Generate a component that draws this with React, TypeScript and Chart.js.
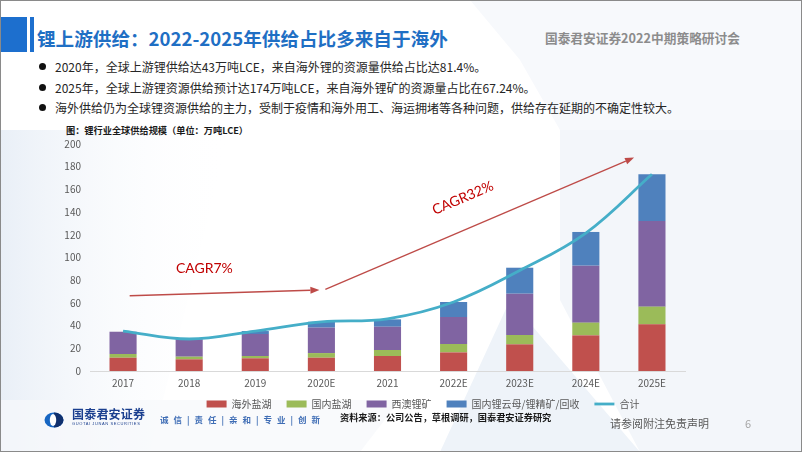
import React, { useEffect, useRef } from 'react';
import { Chart, registerables } from 'chart.js';

Chart.register(...registerables);

// ---------- data ----------
const categories = ['2017', '2018', '2019', '2020E', '2021', '2022E', '2023E', '2024E', '2025E'];
const overseasBrine = [11.7, 10.3, 11.2, 11.7, 13.2, 16.4, 23.5, 31.4, 41.1];
const domesticBrine = [3.3, 2.3, 2.0, 4.1, 5.3, 7.4, 8.2, 11.2, 15.6];
const westAustraliaMine = [19.6, 15.4, 19.4, 22.4, 20.5, 23.8, 36.4, 50.2, 75.5];
const domesticMicaOther = [0, 0, 2.6, 5.2, 6.5, 13.2, 22.9, 29.7, 41.1];
const totalSupply = [35.2, 28.2, 35.2, 43.2, 46.0, 60.8, 88.5, 121.5, 173.3];
const seriesNames = ['海外盐湖', '国内盐湖', '西澳锂矿', '国内锂云母/锂精矿/回收', '合计'];
const yMax = 200;
const yStep = 20;
const cagrLabels = ['CAGR7%', 'CAGR32%'];

const bullets = [
  '2020年，全球上游锂供给达43万吨LCE，来自海外锂的资源量供给占比达81.4%。',
  '2025年，全球上游锂资源供给预计达174万吨LCE，来自海外锂矿的资源量占比在67.24%。',
  '海外供给仍为全球锂资源供给的主力，受制于疫情和海外用工、海运拥堵等各种问题，供给存在延期的不确定性较大。',
];

const CJK = '"Noto Sans CJK SC", "Noto Sans", sans-serif';

// annotation arrows in data space: [categoryIndex, value]
const cagrArrows = [
  { from: [0.1, 66.3], to: [2.97, 71.4], label: cagrLabels[0], labelAt: [1.23, 89.9], rotate: false },
  { from: [3.06, 72.0], to: [7.73, 188.0], label: cagrLabels[1], labelAt: [5.14, 152.4], rotate: true },
];

const cagrPlugin = {
  id: 'cagrArrows',
  afterDatasetsDraw(chart: any) {
    const { ctx, scales } = chart;
    const xs = scales.x;
    const ys = scales.y;
    ctx.save();
    for (const a of cagrArrows) {
      const x1 = xs.getPixelForValue(a.from[0]);
      const y1 = ys.getPixelForValue(a.from[1]);
      const x2 = xs.getPixelForValue(a.to[0]);
      const y2 = ys.getPixelForValue(a.to[1]);
      const ang = Math.atan2(y2 - y1, x2 - x1);
      const head = 9;
      const hw = 3.5;
      const bx = x2 - head * Math.cos(ang);
      const by = y2 - head * Math.sin(ang);
      ctx.strokeStyle = '#be4b48';
      ctx.lineWidth = 1.3;
      ctx.beginPath();
      ctx.moveTo(x1, y1);
      ctx.lineTo(bx, by);
      ctx.stroke();
      ctx.fillStyle = '#be4b48';
      ctx.beginPath();
      ctx.moveTo(x2, y2);
      ctx.lineTo(bx + hw * Math.sin(ang), by - hw * Math.cos(ang));
      ctx.lineTo(bx - hw * Math.sin(ang), by + hw * Math.cos(ang));
      ctx.closePath();
      ctx.fill();

      const tx = xs.getPixelForValue(a.labelAt[0]);
      const ty = ys.getPixelForValue(a.labelAt[1]);
      ctx.save();
      ctx.translate(tx, ty);
      if (a.rotate) ctx.rotate(ang);
      ctx.fillStyle = '#c00000';
      ctx.font = '14px Lato, "Liberation Sans", sans-serif';
      ctx.textAlign = 'center';
      ctx.textBaseline = 'middle';
      ctx.fillText(a.label, 0, 0);
      ctx.restore();
    }
    ctx.restore();
  },
};

function SupplyChart() {
  const ref = useRef<HTMLCanvasElement | null>(null);
  useEffect(() => {
    if (!ref.current) return;
    const barColors = ['#c0504d', '#9bbb59', '#8064a2', '#4f81bd'];
    const barSeries = [overseasBrine, domesticBrine, westAustraliaMine, domesticMicaOther];
    const datasets: any[] = barSeries.map((d, i) => ({
      type: 'bar',
      label: seriesNames[i],
      data: d,
      backgroundColor: barColors[i],
      borderWidth: 0,
      stack: 'bars',
      order: 1,
      categoryPercentage: 1,
      barPercentage: 0.41,
    }));
    datasets.push({
      type: 'line',
      label: seriesNames[4],
      data: totalSupply,
      borderColor: '#45aec8',
      backgroundColor: '#45aec8',
      borderWidth: 2.8,
      pointRadius: 0,
      tension: 0.38,
      stack: 'total',
      order: 0,
    });
    const defaultGen = (Chart as any).defaults.plugins.legend.labels.generateLabels;
    const chart = new Chart(ref.current, {
      type: 'bar',
      data: { labels: categories, datasets },
      plugins: [cagrPlugin],
      options: {
        animation: false,
        responsive: false,
        maintainAspectRatio: false,
        layout: { padding: { left: 0, right: 0, top: 0, bottom: 0 } },
        scales: {
          x: {
            stacked: true,
            grid: { display: false, drawTicks: false },
            border: { display: true, color: '#d9d9d9', width: 1 },
            ticks: { color: '#595959', font: { size: 10, family: CJK }, padding: 6, maxRotation: 0 },
            afterFit(scale: any) {
              scale.height = 18;
            },
          },
          y: {
            stacked: true,
            min: 0,
            max: yMax,
            grid: { display: false, drawTicks: false },
            border: { display: false },
            ticks: { stepSize: yStep, color: '#595959', font: { size: 10, family: CJK }, padding: 9 },
            afterFit(scale: any) {
              scale.width = 50;
            },
          },
          spacer: {
            type: 'linear',
            position: 'right',
            display: true,
            grid: { display: false, drawTicks: false },
            border: { display: false },
            ticks: { display: false },
            afterFit(scale: any) {
              scale.width = 121;
            },
          },
        },
        plugins: {
          tooltip: { enabled: false },
          legend: {
            position: 'bottom',
            labels: {
              color: '#595959',
              font: { size: 10, family: CJK },
              usePointStyle: true,
              pointStyleWidth: 20,
              boxWidth: 20,
              boxHeight: 7,
              padding: 10,
              generateLabels(c: any) {
                const items = defaultGen(c);
                items.forEach((it: any) => {
                  it.pointStyle = it.datasetIndex === 4 ? 'line' : 'rect';
                  if (it.datasetIndex === 4) it.lineWidth = 2.8;
                  else it.text = it.text + '\u2002';
                });
                return items;
              },
              sort: (a: any, b: any) => a.datasetIndex - b.datasetIndex,
            },
          },
        },
      } as any,
    });
    return () => chart.destroy();
  }, []);
  return <canvas ref={ref} width={766} height={290} style={{ position: 'absolute', left: 40, top: 129, width: 766, height: 290 }} />;
}

function Text({ x, y, size, color, weight, children, spacing }: any) {
  return (
    <div
      style={{
        position: 'absolute',
        left: x,
        top: y - size,
        height: size * 2,
        lineHeight: `${size * 2}px`,
        fontSize: size,
        color,
        fontWeight: weight || 400,
        whiteSpace: 'nowrap',
        fontFamily: CJK,
        letterSpacing: spacing || 0,
      }}
    >
      {children}
    </div>
  );
}

export default function App() {
  return (
    <div
      style={{
        position: 'fixed',
        left: 0,
        top: 0,
        width: 802,
        height: 452,
        overflow: 'hidden',
        background: '#ffffff',
        fontFamily: CJK,
      }}
    >
      <svg width={802} height={452} style={{ position: 'absolute', left: 0, top: 0 }}>
        <defs>
          <linearGradient id="lg1" x1="0" y1="0" x2="1" y2="0">
            <stop offset="0" stopColor="#e9eff7" />
            <stop offset="1" stopColor="#ffffff" stopOpacity="0" />
          </linearGradient>
        </defs>
        <polygon points="0,130 230,130 150,452 0,452" fill="url(#lg1)" />
        <polygon points="560,130 802,130 802,452 640,452 560,300" fill="#f3f6fa" />
        <polygon points="470,0 802,0 802,130 560,130 520,60" fill="#f7f9fc" />
        <polygon points="510,300 640,452 440,452" fill="#eef3f9" />
        <polygon points="0,400 400,400 360,452 0,452" fill="#f6f8fb" opacity="0.7" />
      </svg>

      {/* header */}
      <div style={{ position: 'absolute', left: 1, top: 17, width: 26, height: 35, background: '#1d6fce' }} />
      <div style={{ position: 'absolute', left: 30, top: 17, width: 3.5, height: 35, background: '#1d6fce' }} />
      <Text x={37} y={38} size={18.6} color="#1f6fc4" weight={700}>
        锂上游供给：2022-2025年供给占比多来自于海外
      </Text>
      <Text x={545} y={38} size={12.7} color="#8c8c8c" weight={700}>
        国泰君安证券2022中期策略研讨会
      </Text>

      {/* bullets */}
      {bullets.map((b, i) => (
        <React.Fragment key={i}>
          <div
            style={{
              position: 'absolute',
              left: 39,
              top: [66, 87, 107.5][i] - 3.5,
              width: 7,
              height: 7,
              borderRadius: '50%',
              background: '#111',
            }}
          />
          <Text x={55} y={[66.5, 87.5, 108][i]} size={12} color="#262626">
            {b}
          </Text>
        </React.Fragment>
      ))}

      <Text x={66} y={130} size={9.2} color="#1a1a1a" weight={700}>
        图：锂行业全球供给规模（单位：万吨LCE）
      </Text>

      <SupplyChart />

      {/* footer */}
      <svg width={20} height={16} style={{ position: 'absolute', left: 44, top: 412 }}>
        <ellipse cx={10} cy={8} rx={9.5} ry={7.5} fill="#1766c2" />
        <path d="M10 0.5 A9.5 7.5 0 0 1 10 15.5 Z" fill="#10306e" />
        <ellipse cx={9} cy={8} rx={3.2} ry={6} fill="#ffffff" />
      </svg>
      <Text x={72} y={414} size={12} color="#1b3f8f" weight={700} spacing={0.2}>
        国泰君安证券
      </Text>
      <div
        style={{
          position: 'absolute',
          left: 72,
          top: 421,
          fontSize: 4,
          lineHeight: '5px',
          color: '#1b3f8f',
          fontFamily: '"Liberation Sans", sans-serif',
          letterSpacing: 0.6,
          whiteSpace: 'nowrap',
        }}
      >
        GUOTAI JUNAN SECURITIES
      </div>
      <Text x={160} y={419} size={8.5} color="#3f6db5" weight={700} spacing={5}>
        诚信|责任|亲和|专业|创新
      </Text>
      <Text x={340} y={417} size={9.2} color="#1a1a1a" weight={700}>
        资料来源：公司公告，草根调研，国泰君安证券研究
      </Text>
      <Text x={610} y={423} size={11} color="#595959">
        请参阅附注免责声明
      </Text>
      <Text x={745} y={423} size={11} color="#a6a6a6">
        6
      </Text>

      {/* frame */}
      <div
        style={{
          position: 'absolute',
          left: 0,
          top: 0,
          width: 800,
          height: 450,
          border: '1px solid #8a8a8a',
          borderRightWidth: 2,
          borderBottomWidth: 2,
          boxSizing: 'content-box',
          pointerEvents: 'none',
        }}
      />
    </div>
  );
}
